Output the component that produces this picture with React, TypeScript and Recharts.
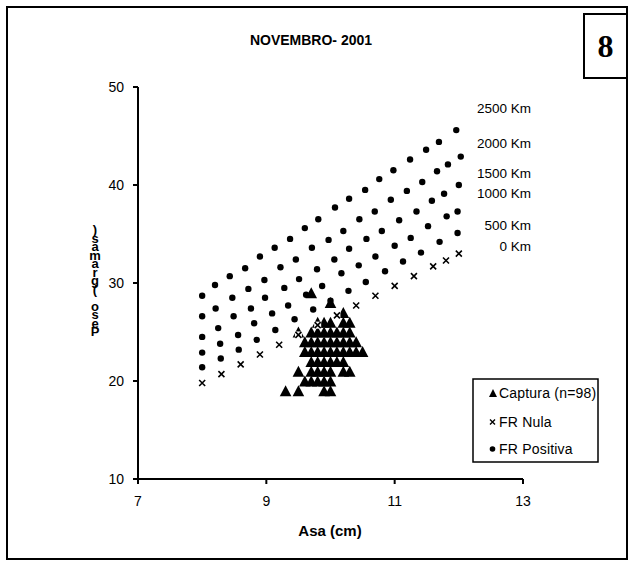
import { ScatterChart, Scatter, XAxis, YAxis } from 'recharts'

const FONT = '"Liberation Sans", Arial, sans-serif'

const X_TICKS = [7, 9, 11, 13]
const Y_TICKS = [10, 20, 30, 40, 50]

// FR Nula (0 Km)
const NULA_X = [8.0, 8.3, 8.6, 8.9, 9.2, 9.5, 9.8, 10.1, 10.4, 10.7, 11.0, 11.3, 11.6, 11.8, 12.0]
const NULA_Y = [19.8, 20.7, 21.7, 22.7, 23.7, 24.7, 25.7, 26.7, 27.7, 28.7, 29.7, 30.7, 31.7, 32.3, 33.0]

// FR Positiva, one row per distance
const KM500_X = [8.0, 8.29, 8.57, 8.85, 9.14, 9.44, 9.73, 10.0, 10.28, 10.55, 10.85, 11.13, 11.41, 11.7, 11.98]
const KM500_Y = [21.4, 22.3, 23.2, 24.2, 25.2, 26.3, 27.3, 28.2, 29.2, 30.1, 31.2, 32.2, 33.1, 34.2, 35.1]

const KM1000_X = [8.0, 8.28, 8.56, 8.81, 9.09, 9.34, 9.62, 9.87, 10.17, 10.44, 10.7, 11.0, 11.25, 11.52, 11.81, 11.98]
const KM1000_Y = [22.9, 23.8, 24.7, 25.9, 26.9, 27.7, 28.8, 29.7, 31.0, 31.8, 32.7, 33.8, 34.6, 35.8, 36.8, 37.3]

const KM1500_X = [8.0, 8.25, 8.49, 8.76, 8.98, 9.28, 9.51, 9.79, 10.06, 10.29, 10.56, 10.8, 11.07, 11.34, 11.58, 11.77, 12.0]
const KM1500_Y = [24.5, 25.4, 26.6, 27.4, 28.5, 29.5, 30.4, 31.4, 32.4, 33.5, 34.5, 35.3, 36.4, 37.3, 38.4, 39.1, 40.0]

const KM2000_X = [8.0, 8.21, 8.47, 8.72, 8.97, 9.22, 9.46, 9.71, 9.97, 10.2, 10.45, 10.69, 10.94, 11.19, 11.43, 11.66, 11.83, 12.03]
const KM2000_Y = [26.6, 27.4, 28.5, 29.4, 30.3, 31.6, 32.4, 33.6, 34.4, 35.3, 36.5, 37.3, 38.5, 39.4, 40.3, 41.4, 42.1, 42.9]

const KM2500_X = [8.0, 8.2, 8.43, 8.67, 8.9, 9.13, 9.37, 9.6, 9.81, 10.07, 10.29, 10.54, 10.76, 10.98, 11.24, 11.49, 11.69, 11.96]
const KM2500_Y = [28.7, 29.8, 30.7, 31.5, 32.7, 33.6, 34.5, 35.6, 36.5, 37.7, 38.6, 39.5, 40.6, 41.5, 42.6, 43.6, 44.4, 45.6]

// Captura (n=98): wing (cm), weight (g)
const CAPTURA: [number, number][] = [
  [9.7, 29], [10.0, 28], [10.2, 27],
  [9.8, 26], [9.9, 26], [10.0, 26], [10.2, 26], [10.3, 26],
  [9.5, 25], [9.7, 25], [9.8, 25], [9.9, 25], [10.0, 25], [10.1, 25], [10.2, 25], [10.3, 25],
  [9.6, 24], [9.7, 24], [9.8, 24], [9.9, 24], [10.0, 24], [10.1, 24], [10.2, 24], [10.3, 24], [10.4, 24],
  [9.6, 23], [9.7, 23], [9.8, 23], [9.9, 23], [10.0, 23], [10.1, 23], [10.2, 23], [10.3, 23], [10.4, 23], [10.5, 23],
  [9.7, 22], [9.8, 22], [9.9, 22], [10.0, 22], [10.1, 22], [10.2, 22],
  [9.5, 21], [9.7, 21], [9.8, 21], [9.9, 21], [10.0, 21], [10.2, 21], [10.3, 21],
  [9.6, 20], [9.7, 20], [9.8, 20], [9.9, 20], [10.0, 20],
  [9.3, 19], [9.5, 19], [9.9, 19], [10.0, 19],
]

const KM_LABELS = ['2500 Km', '2000 Km', '1500 Km', '1000 Km', '500 Km', '0 Km']
const KM_LABEL_Y = [108, 143, 173, 193, 225, 246]

const zip = (xs: number[], ys: number[]) => xs.map((x, i) => ({ x, y: ys[i] }))

const Dot = (p: any) => <circle cx={p.cx} cy={p.cy} r={3.2} fill="#000" />

const Cross = (p: any) => (
  <g>
    <rect x={p.cx - 3.5} y={p.cy - 3.5} width={7} height={7} fill="#fff" />
    <path
      d={`M${p.cx - 3},${p.cy - 3}L${p.cx + 3},${p.cy + 3}M${p.cx + 3},${p.cy - 3}L${p.cx - 3},${p.cy + 3}`}
      stroke="#000" strokeWidth={1.6}
    />
  </g>
)

const Tri = (p: any) => (
  <path d={`M${p.cx},${p.cy - 5.5}L${p.cx + 5.8},${p.cy + 5.5}L${p.cx - 5.8},${p.cy + 5.5}Z`} fill="#000" />
)

const positiva = [KM500_X, KM1000_X, KM1500_X, KM2000_X, KM2500_X].map((xs, i) =>
  zip(xs, [KM500_Y, KM1000_Y, KM1500_Y, KM2000_Y, KM2500_Y][i]))

export default function App() {
  // the y title shows its letters stacked bottom-to-top, like the original export
  const yLabel = Array.from('Peso (gramas)').reverse().join('')
  return (
    <div style={{ position: 'absolute', left: 0, top: 0, width: 635, height: 567, fontFamily: FONT, background: '#fff' }}>
      <div style={{ position: 'absolute', left: 6, top: 6, width: 618, height: 550, border: '2px solid #000' }} />
      <div style={{
        position: 'absolute', left: 583, top: 13, width: 41, height: 62, border: '2px solid #000',
        fontFamily: '"Liberation Serif", "Times New Roman", serif', fontWeight: 'bold', fontSize: 32,
        display: 'flex', alignItems: 'center', justifyContent: 'center',
      }}>8</div>

      <ScatterChart width={635} height={567} margin={{ top: 87, right: 112, bottom: 58, left: 98 }}
        style={{ position: 'absolute', left: 0, top: 0 }}>
        <XAxis type="number" dataKey="x" domain={[7, 13]} ticks={X_TICKS} height={30}
          tickSize={5} tickMargin={12} allowDataOverflow
          axisLine={{ stroke: '#000', strokeWidth: 2 }} tickLine={{ stroke: '#000', strokeWidth: 2 }}
          tick={{ fill: '#000', fontSize: 14, fontFamily: FONT }} />
        <YAxis type="number" dataKey="y" domain={[10, 50]} ticks={Y_TICKS} width={40}
          tickSize={5} tickMargin={9} allowDataOverflow
          axisLine={{ stroke: '#000', strokeWidth: 2 }} tickLine={{ stroke: '#000', strokeWidth: 2 }}
          tick={{ fill: '#000', fontSize: 14, fontFamily: FONT }} />
        <Scatter name="Captura (n=98)" data={CAPTURA.map(([x, y]) => ({ x, y }))} shape={Tri} isAnimationActive={false} />
        {positiva.map((d, i) => (
          <Scatter key={i} name="FR Positiva" data={d} shape={Dot} isAnimationActive={false} />
        ))}
        <Scatter name="FR Nula" data={zip(NULA_X, NULA_Y)} shape={Cross} isAnimationActive={false} />
      </ScatterChart>

      <svg width={635} height={567} style={{ position: 'absolute', left: 0, top: 0, pointerEvents: 'none' }}>
        <text x={311} y={40} textAnchor="middle" dominantBaseline="central" fontSize={14} fontWeight="bold">
          NOVEMBRO- 2001
        </text>
        <text x={330} y={530} textAnchor="middle" dominantBaseline="central" fontSize={15} fontWeight="bold">
          Asa (cm)
        </text>
        <text x={95} y={222} fontSize={13} fontWeight="bold" letterSpacing={-6.5}
          style={{ writingMode: 'vertical-rl', textOrientation: 'upright' } as any}>
          {yLabel}
        </text>
        {KM_LABELS.map((t, i) => (
          <text key={t} x={531} y={KM_LABEL_Y[i]} textAnchor="end" dominantBaseline="central" fontSize={13.5}>{t}</text>
        ))}

        <rect x={473} y={379} width={125} height={83} fill="#fff" stroke="#000" strokeWidth={1.5} />
        <path d="M493,389L497,397L489,397Z" fill="#000" />
        <text x={499} y={393} dominantBaseline="central" fontSize={14} letterSpacing={0.2}>Captura (n=98)</text>
        <path d="M490,419.5L495,424.5M495,419.5L490,424.5" stroke="#000" strokeWidth={1.4} />
        <text x={499} y={422} dominantBaseline="central" fontSize={14} letterSpacing={0.2}>FR Nula</text>
        <circle cx={492.5} cy={449} r={2.8} fill="#000" />
        <text x={499} y={449} dominantBaseline="central" fontSize={14} letterSpacing={0.2}>FR Positiva</text>
      </svg>
    </div>
  )
}
